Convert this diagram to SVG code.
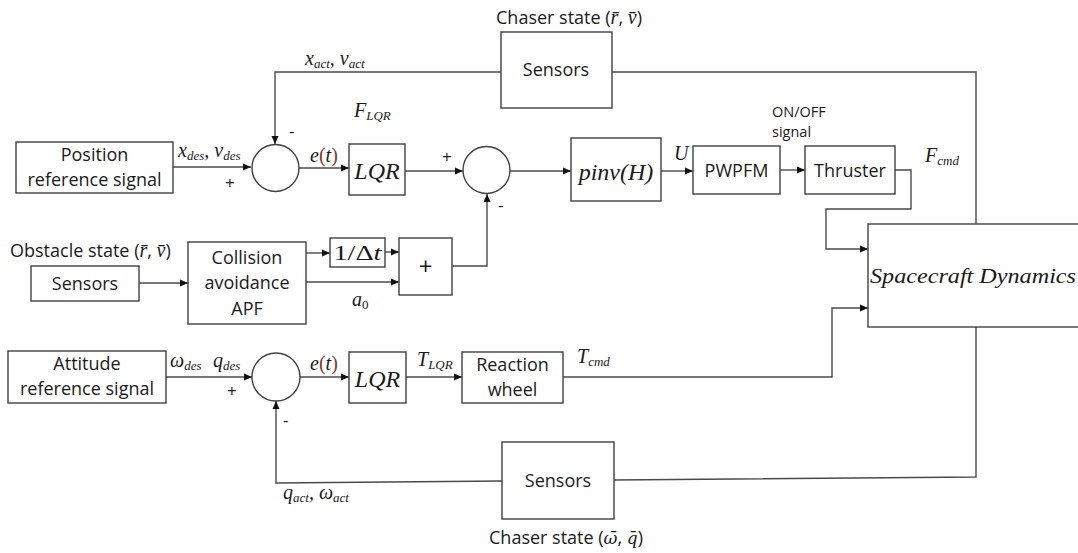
<svg xmlns="http://www.w3.org/2000/svg" width="1078" height="553" viewBox="0 0 1078 553">
<defs>
<marker id="arr" markerUnits="userSpaceOnUse" markerWidth="9" markerHeight="8" refX="8" refY="4" orient="auto">
<path d="M0,0.5 L8,4 L0,7.5 z" fill="#111"/>
</marker>
<style>
.box{fill:#fff;stroke:#404040;stroke-width:1.4}
.sum{fill:#fff;stroke:#404040;stroke-width:1.4}
.ln{fill:none;stroke:#4a4a4a;stroke-width:1.4}
.la{fill:none;stroke:#4a4a4a;stroke-width:1.4;marker-end:url(#arr)}
.t{font-family:"Open Sans","Liberation Sans",sans-serif;font-size:18px;fill:#1a1a1a;text-anchor:middle}
.tl{font-family:"Open Sans","Liberation Sans",sans-serif;font-size:18px;fill:#1a1a1a}
.s{font-family:"Open Sans","Liberation Sans",sans-serif;font-size:14.5px;fill:#1a1a1a}
.m{font-family:"Liberation Serif","DejaVu Serif",serif;font-style:italic;font-size:20px;fill:#1a1a1a}
.md{font-family:"DejaVu Serif",serif;font-style:italic;font-size:17px;fill:#1a1a1a}
.mc{font-family:"Liberation Serif","DejaVu Serif",serif;font-style:italic;font-size:24px;fill:#1a1a1a;text-anchor:middle}
.sub{font-size:13px}
.sg{font-family:"Open Sans","Liberation Sans",sans-serif;font-size:17px;fill:#1a1a1a}
.br{fill:#7a3b2e;font-style:normal}
</style>
</defs>

<g id="connectors">
<path class="la" d="M173,167 H251"/>
<path class="la" d="M501,72 H275 V144"/>
<path class="la" d="M299,168 H349"/>
<path class="la" d="M405,171 H463"/>
<path class="la" d="M510,171 H571"/>
<path class="la" d="M661,171 H693"/>
<path class="la" d="M780,170 H805"/>
<path class="la" d="M895,170 H911 V209 H826 V249 H868"/>
<path class="ln" d="M976,224 V72 H612"/>
<path class="ln" d="M976,327 V477 L614,480"/>
<path class="la" d="M502,481 L276,483 V401"/>
<path class="la" d="M139,283 H188"/>
<path class="la" d="M306,253 H330"/>
<path class="la" d="M385,252 H399"/>
<path class="la" d="M306,282 H399"/>
<path class="la" d="M452,266 H487 V194"/>
<path class="la" d="M166,377 H252"/>
<path class="la" d="M300,377 H349"/>
<path class="la" d="M406,377 H462"/>
<path class="la" d="M563,377 H832 V308 H868"/>
</g>

<g id="chaser-sensors-top">
<rect class="box" x="501" y="32" width="111" height="76"/>
<text class="t" x="556" y="76">Sensors</text>
<text class="tl" x="496" y="24">Chaser state (<tspan class="m">r̄</tspan>, <tspan class="m">v̄</tspan>)</text>
</g>

<g id="position-ref">
<rect class="box" x="16" y="142" width="157" height="51"/>
<text class="t" x="94.5" y="161">Position</text>
<text class="t" x="94.5" y="186">reference signal</text>
</g>

<g id="sum1">
<circle class="sum" cx="275.5" cy="168" r="23.5"/>
<text class="sg" x="289" y="137">-</text>
<text class="sg" x="225" y="189">+</text>
</g>

<g id="lqr1">
<rect class="box" x="349" y="144" width="56" height="51"/>
<text class="mc" x="377" y="179">LQR</text>
</g>

<g id="sum2">
<circle class="sum" cx="486.5" cy="170" r="23.5"/>
<text class="sg" x="442" y="163">+</text>
<text class="sg" x="498" y="211">-</text>
</g>

<g id="pinv">
<rect class="box" x="571" y="138" width="90" height="63"/>
<text class="mc" x="616" y="180">pinv(H)</text>
</g>

<g id="pwpfm">
<rect class="box" x="693" y="146" width="87" height="48"/>
<text class="t" x="736.5" y="177">PWPFM</text>
</g>

<g id="thruster">
<rect class="box" x="805" y="146" width="90" height="48"/>
<text class="t" x="850" y="177">Thruster</text>
</g>

<g id="spacecraft-dynamics">
<rect class="box" x="868" y="224" width="215" height="103"/>
<text class="m" x="870" y="283" font-size="23" textLength="206" lengthAdjust="spacingAndGlyphs">Spacecraft Dynamics</text>
</g>

<g id="obstacle-sensors">
<rect class="box" x="31" y="266" width="108" height="35"/>
<text class="t" x="85" y="290">Sensors</text>
<text class="tl" x="10" y="257">Obstacle state (<tspan class="m">r̄</tspan>, <tspan class="m">v̄</tspan>)</text>
</g>

<g id="collision-apf">
<rect class="box" x="188" y="242" width="118" height="82"/>
<text class="t" x="247" y="264">Collision</text>
<text class="t" x="247" y="289">avoidance</text>
<text class="t" x="247" y="315">APF</text>
</g>

<g id="inv-dt">
<rect class="box" x="330" y="238" width="55" height="29"/>
<text x="357.5" y="260" text-anchor="middle" font-family="Liberation Serif, serif" font-size="22" fill="#1a1a1a" textLength="48" lengthAdjust="spacingAndGlyphs">1/Δ<tspan font-style="italic">t</tspan></text>
</g>

<g id="plus-block">
<rect class="box" x="399" y="238" width="53" height="57"/>
<text x="425.5" y="275" text-anchor="middle" font-family="Open Sans, sans-serif" font-size="24" fill="#1a1a1a">+</text>
</g>

<g id="attitude-ref">
<rect class="box" x="8" y="351" width="158" height="52"/>
<text class="t" x="87" y="370">Attitude</text>
<text class="t" x="87" y="395">reference signal</text>
</g>

<g id="sum3">
<circle class="sum" cx="276" cy="377" r="24"/>
<text class="sg" x="227" y="397">+</text>
<text class="sg" x="283" y="426">-</text>
</g>

<g id="lqr2">
<rect class="box" x="349" y="352" width="57" height="51"/>
<text class="mc" x="377.5" y="387">LQR</text>
</g>

<g id="reaction-wheel">
<rect class="box" x="462" y="352" width="101" height="51"/>
<text class="t" x="512.5" y="371">Reaction</text>
<text class="t" x="512.5" y="396">wheel</text>
</g>

<g id="chaser-sensors-bottom">
<rect class="box" x="502" y="442" width="112" height="77"/>
<text class="t" x="558" y="487">Sensors</text>
<text class="tl" x="489" y="544">Chaser state (<tspan class="md">ω̄</tspan>, <tspan class="md">q̄</tspan>)</text>
</g>

<g id="labels">
<text class="m" x="305" y="65">x<tspan class="sub" dy="3">act</tspan><tspan dy="-3">, v</tspan><tspan class="sub" dy="3">act</tspan></text>
<text class="m" x="178" y="157">x<tspan class="sub" dy="3">des</tspan><tspan dy="-3">, v</tspan><tspan class="sub" dy="3">des</tspan></text>
<text class="m" x="310" y="162">e<tspan class="br">(</tspan>t<tspan class="br">)</tspan></text>
<text class="m" x="354" y="117">F<tspan class="sub" dy="3">LQR</tspan></text>
<text class="m" x="674" y="160">U</text>
<text class="s" x="772" y="117">ON/OFF</text>
<text class="s" x="772" y="137">signal</text>
<text class="m" x="925" y="162">F<tspan class="sub" dy="3">cmd</tspan></text>
<text class="m" x="352" y="306">a<tspan class="sub" dy="3" font-style="normal">0</tspan></text>
<text class="m" x="170" y="367">ω<tspan class="sub" dy="3">des</tspan></text>
<text class="m" x="213" y="367">q<tspan class="sub" dy="3">des</tspan></text>
<text class="m" x="310" y="370">e<tspan class="br">(</tspan>t<tspan class="br">)</tspan></text>
<text class="m" x="417" y="366">T<tspan class="sub" dy="3">LQR</tspan></text>
<text class="m" x="577" y="363">T<tspan class="sub" dy="3">cmd</tspan></text>
<text class="m" x="283" y="499">q<tspan class="sub" dy="3">act</tspan><tspan dy="-3">, ω</tspan><tspan class="sub" dy="3">act</tspan></text>
</g>
</svg>
